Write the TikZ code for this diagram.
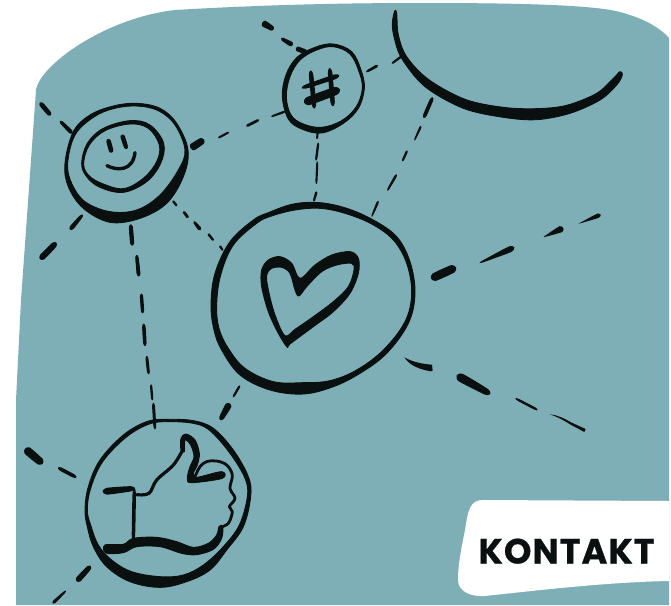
\documentclass[tikz,border=0pt]{standalone}
\usepackage{fontspec}
\setmainfont{Poppins}
\usetikzlibrary{calc}
\definecolor{teal}{HTML}{7EAFB6}
\definecolor{ink}{HTML}{0A1010}
\tikzset{zoomed/.style={shift={#1},scale=0.33333},
  inkline/.style={draw=ink,line cap=round,line join=round},
  inkshape/.style={fill=ink,draw=ink,line width=.9pt,line join=round}}
\newcommand\blob[1]{\path[inkshape] plot[smooth cycle,tension=.55] coordinates {#1};}
\newcommand\ring[2]{\path[inkshape,even odd rule] plot[smooth cycle,tension=.6] coordinates {#1} plot[smooth cycle,tension=.6] coordinates {#2};}
\newcommand\dsh[4]{%
 \coordinate (da) at (#1); \coordinate (db) at (#2);
 \coordinate (dc) at ($(da)!.12!(db)$); \coordinate (dd) at ($(da)!.88!(db)$);
 \coordinate (c1) at ($(dc)!#3*3pt!90:(db)$); \coordinate (c2) at ($(dc)!#3*3pt!-90:(db)$);
 \coordinate (d1) at ($(dd)!#4*3pt!90:(db)$); \coordinate (d2) at ($(dd)!#4*3pt!-90:(db)$);
 \fill[ink] plot[smooth cycle,tension=.35] coordinates {(da)(c1)(d1)(db)(d2)(c2)};}
\begin{document}
\begin{tikzpicture}[x=1pt,y=-1pt]
\useasboundingbox (0,0) rectangle (671,605);
\fill[white] (0,0) rectangle (671,605);
% background
\fill[teal] (36,90) .. controls (40,65) and (105,18) .. (175,10)
  .. controls (260,5) and (340,3) .. (420,3)
  .. controls (500,3) and (590,4) .. (620,12)
  .. controls (642,18) and (658,26) .. (669,38)
  -- (669,605) -- (16,605) -- (16,400) -- (21,300) -- cycle;
% white label
\fill[white] (669,501) -- (483,500) .. controls (470,500) and (468,510) .. (465,530)
  .. controls (461,550) and (458,565) .. (458,580)
  .. controls (458,592) and (472,597) .. (485,596)
  .. controls (540,590) and (610,582) .. (669,581) -- cycle;
\node[inner sep=0pt,text=ink,anchor=base] (kontakt) at (566.5,563.5) {\fontsize{35}{36}\selectfont\bfseries\addfontfeature{LetterSpace=3,FakeBold=0.6}KONTAKT};

% smiley and surrounding dashes
\begin{scope}[zoomed={(0,0)}]
\ring{(195,490)(205,560)(250,625)(330,667)(420,655)(500,610)(550,530)(564,450)(530,370)(480,325)(410,310)(340,318)(270,345)(220,395)}
     {(203,490)(215,550)(255,605)(330,635)(410,630)(480,585)(535,510)(555,450)(525,375)(475,332)(410,318)(340,326)(280,352)(225,405)}
\ring{(245,490)(262,430)(310,385)(390,362)(450,375)(491,430)(482,490)(440,545)(370,577)(300,562)(260,530)}
     {(251,490)(268,435)(315,392)(390,372)(445,385)(478,435)(470,485)(430,535)(370,566)(305,550)(265,525)}
\dsh{324,417}{335,458}{2.2}{2.2}
\dsh{366,404}{380,447}{2.2}{2}
\draw[inkline,line width=3.4pt] (321,497) .. controls (350,512) and (398,515) .. (405,458);
\dsh{120,308}{152,346}{2.2}{2.2}
\dsh{180,363}{217,400}{1.6}{2}
\dsh{248,644}{210,689}{1.6}{2.2}
\dsh{169,728}{120,778}{2.8}{3}
\dsh{392,673}{397,737}{2}{2}
\dsh{410,765}{416,829}{1.4}{1.8}
\dsh{572,445}{612,419}{3.6}{3.2}
\dsh{654,414}{688,396}{1}{1}
\dsh{738,379}{778,359}{1.3}{1.3}
\dsh{813,350}{857,334}{.9}{1.1}
\dsh{518,602}{531,618}{1.1}{1.1}
\dsh{550,634}{565,654}{1.3}{1.3}
\dsh{581,664}{602,690}{1.3}{1.8}
\dsh{624,701}{641,722}{1.2}{1.1}
\dsh{659,737}{669,752}{1.2}{.9}
\dsh{955,428}{948,482}{1.1}{1.1}
\dsh{952,484}{949,552}{1}{1}
\dsh{950,574}{941,605}{1.2}{1}
\end{scope}

% hash
\begin{scope}[zoomed={(255,10)}]
\ring{(82,260)(93,195)(125,143)(180,112)(235,102)(290,125)(318,180)(328,235)(310,295)(265,340)(200,369)(140,357)(100,327)}
     {(94,260)(105,200)(135,150)(185,120)(235,110)(285,132)(312,185)(322,235)(304,290)(260,332)(200,352)(145,342)(108,315)}
\dsh{167,181}{178,296}{2.2}{2.2}
\dsh{224,174}{234,289}{2.2}{2.2}
\dsh{140,234}{253,196}{2}{2.4}
\dsh{147,278}{255,238}{4.2}{4}
\dsh{22,38}{56,58}{3.2}{2.4}
\dsh{78,85}{113,105}{1.6}{2.4}
\dsh{123,115}{156,127}{2.4}{2.2}
\dsh{333,186}{369,166}{1.1}{1.4}
\dsh{188,368}{186,387}{1}{1}
\end{scope}

% arc at top right and its dashes
\begin{scope}[zoomed={(370,0)}]
\blob{(74,33)(67,70)(72,110)(95,175)(165,260)(280,325)(400,352)(500,359)(600,340)(690,300)(740,255)(757,225)(750,215)(730,235)(680,280)(590,316)(500,326)(400,322)(285,298)(175,238)(110,170)(85,105)(80,40)}
\dsh{188,292}{161,354}{1.8}{1.8}
\dsh{153,378}{133,422}{1.1}{.8}
\dsh{112,451}{97,484}{1.1}{1}
\dsh{80,523}{52,572}{1.2}{1}
\dsh{25,603}{5,650}{1.2}{.8}
\dsh{65,191}{96,168}{1}{1.1}
\end{scope}

% heart circle
\begin{scope}[zoomed={(200,190)}]
\ring{(33,345)(45,250)(90,155)(160,90)(205,68)(280,42)(360,38)(440,55)(520,90)(590,140)(630,215)(645,310)(625,400)(560,490)(480,550)(400,590)(310,612)(210,600)(120,555)(65,480)(42,420)}
     {(50,345)(62,255)(100,165)(170,100)(215,78)(285,60)(360,55)(435,70)(515,102)(580,150)(620,220)(635,310)(615,395)(550,480)(470,540)(390,572)(310,578)(220,575)(135,535)(85,475)(57,415)}
\path[inkshape,even odd rule] plot[smooth cycle,tension=.55] coordinates {(262,472)(235,430)(205,365)(185,290)(185,240)(205,210)(240,200)(275,220)(300,265)(345,225)(395,195)(450,185)(475,205)(475,250)(450,310)(400,365)(340,410)(270,462)}
  plot[smooth cycle,tension=.55] coordinates {(255,437)(225,375)(205,300)(200,255)(215,235)(245,232)(270,250)(285,300)(297,318)(320,290)(365,245)(410,225)(455,220)(462,240)(445,290)(400,335)(340,380)(285,418)};
\dsh{120,586}{99,622}{1.1}{1.1}
\end{scope}

% thumb circle
\begin{scope}[zoomed={(0,390)}]
\ring{(255,360)(265,290)(300,210)(370,135)(440,95)(500,88)(580,92)(640,115)(700,180)(745,260)(752,320)(730,410)(680,480)(630,540)(560,575)(480,592)(390,575)(320,530)(280,470)(262,410)}
     {(262,360)(272,295)(308,215)(378,142)(445,103)(500,95)(580,100)(630,122)(690,190)(735,265)(742,320)(718,405)(670,470)(610,525)(550,555)(480,560)(395,545)(335,510)(295,465)(272,405)}
\dsh{308,305}{405,295}{3.4}{2.6}
\dsh{403,293}{400,454}{1.7}{1.7}
\blob{(315,465)(370,463)(400,445)(470,442)(530,455)(580,472)(625,460)(650,435)(657,410)(668,408)(665,445)(640,478)(590,494)(545,490)(480,470)(410,470)(370,488)(318,489)}
\draw[inkline,line width=2.8pt] plot[smooth,tension=.6] coordinates {(660,412)(685,400)(697,365)(688,350)(705,325)(690,295)(697,255)(680,225)(650,213)(620,215)(600,230)(585,260)};
\draw[inkline,line width=3.2pt] plot[smooth,tension=.6] coordinates {(410,314)(447,310)(470,270)(520,225)(548,180)};
\path[inkshape,even odd rule] plot[smooth cycle,tension=.55] coordinates {(543,180)(543,145)(558,132)(585,150)(598,190)(592,225)(580,250)(590,262)(665,245)(667,265)(575,278)(562,265)(570,230)(582,200)(572,165)(555,150)(553,185)};
\dsh{75,176}{128,221}{4}{3.6}
\dsh{174,233}{229,262}{1.7}{1.7}
\dsh{272,528}{230,574}{2.4}{2.8}
\dsh{198,602}{158,640}{1}{1.6}
\dsh{689,40}{661,90}{3.2}{2.4}
\end{scope}

% dashes on the right, upper
\begin{scope}[zoomed={(420,200)}]
\dsh{33,236}{108,202}{4}{4}
\dsh{178,189}{283,142}{1}{3}
\dsh{371,111}{430,84}{.7}{3.2}
\dsh{476,71}{542,44}{.4}{2.2}
\end{scope}

% dashes on the right, lower
\begin{scope}[zoomed={(390,340)}]
\fill[ink] (43,52) .. controls (65,65) and (95,72) .. (126,74) -- (128,92) -- (122,94) .. controls (90,88) and (60,78) .. cycle;
\dsh{200,106}{301,162}{4.2}{3.2}
\dsh{376,175}{443,210}{1.1}{1.2}
\fill[ink] (480,223) .. controls (505,226) and (520,234) .. (545,248) -- (587,267) -- (583,276) -- (540,253) .. controls (520,240) and (505,232) .. cycle;
\end{scope}

% vertical dashes between smiley and thumb
\begin{scope}[zoomed={(120,210)}]
\dsh{50,135}{57,199}{1.6}{1.6}
\dsh{64,251}{68,310}{1.6}{1.6}
\dsh{71,341}{75,408}{1.7}{1.7}
\dsh{80,438}{86,493}{1.4}{1.4}
\dsh{93,523}{97,571}{1.1}{1.1}
\dsh{100,578}{105,658}{1.4}{1.4}
\end{scope}
\end{tikzpicture}
\end{document}
